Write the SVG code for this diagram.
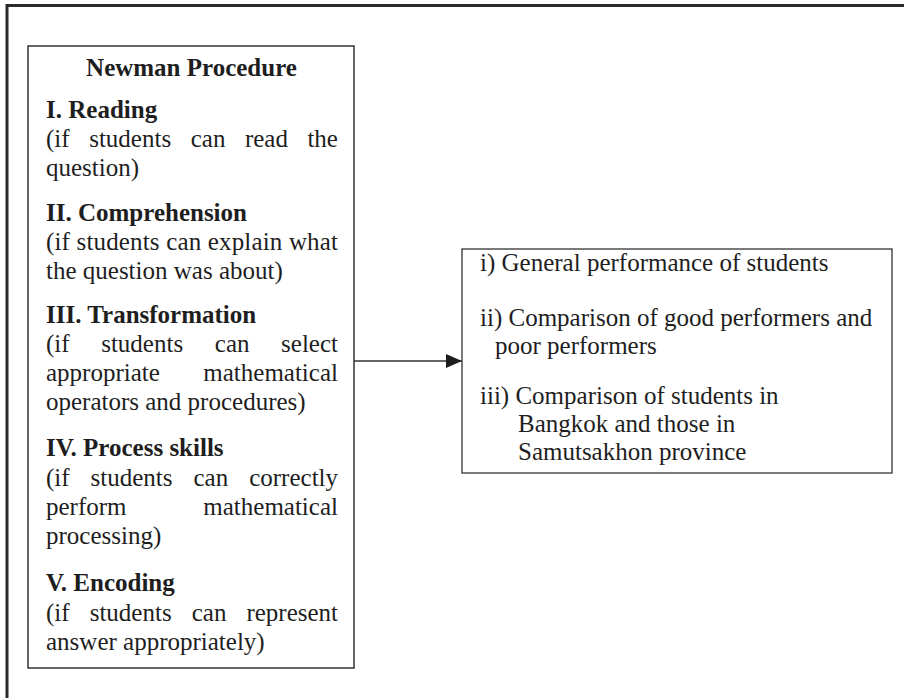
<svg xmlns="http://www.w3.org/2000/svg" width="904" height="698" viewBox="0 0 904 698">
<defs>
<style>
.t{font-family:"Liberation Serif","Times New Roman",serif;font-size:25px;fill:#1e1e1e}
.b{font-weight:bold}
.box{fill:#fff;stroke:#333;stroke-width:1.5}
.frame{fill:none;stroke:#2a2a2a;stroke-width:3}
.edge{fill:none;stroke:#333;stroke-width:1.3}
</style>
<marker id="ah" markerWidth="16" markerHeight="14" refX="16" refY="7" orient="auto" markerUnits="userSpaceOnUse">
<path d="M0,0 L16,7 L0,14 Z" fill="#1e1e1e"/>
</marker>
</defs>
<rect width="904" height="698" fill="#fff"/>
<path class="frame" d="M7,698 V5.5 H904"/>
<g id="connectors">
<path class="edge" d="M354,361 H462" marker-end="url(#ah)"/>
</g>
<g id="node-newman">
<rect class="box" x="28" y="46" width="326" height="622"/>
<text class="t b" x="191.5" y="76" text-anchor="middle">Newman Procedure</text>
<text class="t b" x="46" y="118">I. Reading</text>
<text class="t" y="147"><tspan x="46">(if</tspan><tspan x="89.2">students</tspan><tspan x="190.7">can</tspan><tspan x="244.9">read</tspan><tspan x="307.4">the</tspan></text>
<text class="t" x="46" y="176">question)</text>
<text class="t b" x="46" y="221">II. Comprehension</text>
<text class="t" x="46" y="250" textLength="292" lengthAdjust="spacing">(if students can explain what</text>
<text class="t" x="46" y="279">the question was about)</text>
<text class="t b" x="46" y="323">III. Transformation</text>
<text class="t" y="352"><tspan x="46">(if</tspan><tspan x="101.2">students</tspan><tspan x="214.8">can</tspan><tspan x="281.1">select</tspan></text>
<text class="t" y="381"><tspan x="46">appropriate</tspan><tspan x="203.3">mathematical</tspan></text>
<text class="t" x="46" y="410">operators and procedures)</text>
<text class="t b" x="46" y="456">IV. Process skills</text>
<text class="t" y="486"><tspan x="46">(if</tspan><tspan x="90.6">students</tspan><tspan x="193.5">can</tspan><tspan x="249.2">correctly</tspan></text>
<text class="t" y="515"><tspan x="46">perform</tspan><tspan x="203.3">mathematical</tspan></text>
<text class="t" x="46" y="544">processing)</text>
<text class="t b" x="46" y="591">V. Encoding</text>
<text class="t" y="621"><tspan x="46">(if</tspan><tspan x="89.7">students</tspan><tspan x="191.7">can</tspan><tspan x="246.4">represent</tspan></text>
<text class="t" x="46" y="650">answer appropriately)</text>
</g>
<g id="node-outcomes">
<rect class="box" x="462" y="249" width="430" height="224" style="stroke-width:1.3"/>
<text class="t" x="480" y="271">i) General performance of students</text>
<text class="t" x="480" y="326">ii) Comparison of good performers and</text>
<text class="t" x="495" y="354">poor performers</text>
<text class="t" x="480" y="404">iii) Comparison of students in</text>
<text class="t" x="518" y="432">Bangkok and those in</text>
<text class="t" x="518" y="460">Samutsakhon province</text>
</g>
</svg>
